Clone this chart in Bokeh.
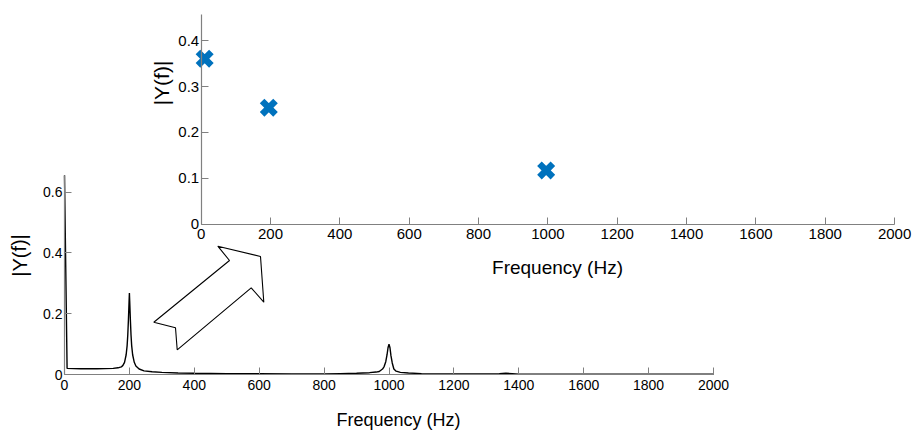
from bokeh.plotting import figure
from bokeh.models import Range1d, LinearAxis, FixedTicker, Label
from bokeh.embed import file_html
from bokeh.resources import INLINE

# ---------------- data ----------------
# lower panel: amplitude spectrum |Y(f)|
spec_freq = [0, 8, 50, 100, 150, 165, 175, 180, 185, 190, 193, 195, 197, 199, 200,
             201, 203, 205, 207, 210, 215, 220, 230, 245, 270, 300, 350, 400, 500,
             600, 700, 800, 850, 900, 940, 960, 970, 980, 985, 990, 994, 997, 1000,
             1003, 1006, 1010, 1015, 1022, 1035, 1060, 1100, 1200, 1300, 1340, 1360,
             1380, 1400, 1500, 1600, 1800, 2000]
spec_mag = [0.655, 0.020, 0.019, 0.019, 0.020, 0.022, 0.025, 0.030, 0.040, 0.065, 0.095,
            0.130, 0.180, 0.240, 0.268, 0.240, 0.180, 0.130, 0.095, 0.065, 0.040, 0.028,
            0.018, 0.012, 0.009, 0.007, 0.005, 0.004, 0.003, 0.003, 0.002, 0.002, 0.003,
            0.004, 0.006, 0.008, 0.010, 0.018, 0.026, 0.042, 0.065, 0.088, 0.100, 0.088,
            0.062, 0.038, 0.018, 0.011, 0.007, 0.005, 0.003, 0.002, 0.002, 0.003, 0.004,
            0.003, 0.001, 0.001, 0.001, 0.001, 0.001]

# inset: picked peaks
peak_freq = [10, 195, 995]
peak_mag = [0.361, 0.254, 0.117]

lower_xticks = [0, 200, 400, 600, 800, 1000, 1200, 1400, 1600, 1800, 2000]
lower_xlabels = ["0", "200", "400", "600", "800", "1000", "1200", "1400", "1600", "1800", "2000"]
lower_yticks = [0, 0.2, 0.4, 0.6]
lower_ylabels = ["0", "0.2", "0.4", "0.6"]
inset_xticks = lower_xticks
inset_xlabels = lower_xlabels
inset_yticks = [0, 0.1, 0.2, 0.3, 0.4]
inset_ylabels = ["0", "0.1", "0.2", "0.3", "0.4"]

x_label = "Frequency (Hz)"
y_label = "|Y(f)|"

# ---------------- layout constants ----------------
W, H = 917, 433             # the frame covers the whole canvas

# lower axes: canvas position of the origin and scale
LX0, LX_PX = 64.0, 0.3245   # canvas x of 0 Hz, px per Hz
LY0, LY_PX = 374.0, 304.0   # canvas y of 0, px per unit
LOWER_XMAX, LOWER_YMAX = 2000, 0.656

# inset axes
IX0, IX_PX = 200.7, 0.3467
IY0, IY_PX = 223.5, 458.0
INSET_XMAX, INSET_YMAX = 2000, 0.457


def xr(x0, k):
    return Range1d(-x0 / k, (W - x0) / k)


def yr(y0, k):
    return Range1d((y0 - H) / k, y0 / k)


FONT = "Liberation Sans"
AXIS_COLOR = "#808080"
TEXT_COLOR = "#000000"

p = figure(width=W, height=H, x_range=xr(LX0, LX_PX), y_range=yr(LY0, LY_PX),
           x_axis_type=None, y_axis_type=None, toolbar_location=None,
           output_backend="svg", min_border=0)
p.extra_x_ranges = {"inx": xr(IX0, IX_PX)}
p.extra_y_ranges = {"iny": yr(IY0, IY_PX)}
p.outline_line_color = None
p.background_fill_color = "white"
p.border_fill_color = "white"


def style_axis(ax, ticks, labels, size, standoff):
    ax.ticker = FixedTicker(ticks=ticks)
    ax.major_label_overrides = {t: l for t, l in zip(ticks, labels)}
    ax.axis_line_color = AXIS_COLOR
    ax.axis_line_width = 1.2
    ax.major_tick_line_color = AXIS_COLOR
    ax.major_tick_in = 7
    ax.major_tick_out = 0
    ax.minor_tick_line_color = None
    ax.major_label_text_font = FONT
    ax.major_label_text_font_size = size
    ax.major_label_text_color = TEXT_COLOR
    ax.major_label_standoff = standoff


lx = LinearAxis(fixed_location=0, bounds=(0, LOWER_XMAX))
style_axis(lx, lower_xticks, lower_xlabels, "14px", 5)
p.add_layout(lx, "below")
ly = LinearAxis(fixed_location=0, bounds=(0, LOWER_YMAX))
style_axis(ly, lower_yticks, lower_ylabels, "14px", 2)
p.add_layout(ly, "left")

ix = LinearAxis(x_range_name="inx", y_range_name="iny", fixed_location=0,
                bounds=(0, INSET_XMAX))
style_axis(ix, inset_xticks, inset_xlabels, "15px", 5)
p.add_layout(ix, "below")
iy = LinearAxis(x_range_name="inx", y_range_name="iny", fixed_location=0,
                bounds=(0, INSET_YMAX))
style_axis(iy, inset_yticks, inset_ylabels, "15px", 2)
p.add_layout(iy, "left")

# spectrum line
p.line(spec_freq, spec_mag, line_color="black", line_width=1.4)

# inset markers
p.scatter(peak_freq, peak_mag, marker="x", size=19, line_width=6.5,
          line_color="#0072BD", x_range_name="inx", y_range_name="iny")

# block arrow (decoration), vertices in canvas px
arrow_px = [(153.3, 321.7), (175.0, 327.3), (176.7, 349.3), (250.7, 287.3),
            (263.3, 301.7), (260.0, 256.0), (217.3, 245.7), (229.0, 260.0)]
ax_data = [(x - LX0) / LX_PX for x, _ in arrow_px]
ay_data = [(LY0 - y) / LY_PX for _, y in arrow_px]
p.patch(ax_data, ay_data, fill_color="white", line_color="black", line_width=1.1)


def add_label(text, cx, cy, size, angle=0.0):
    p.add_layout(Label(x=cx, y=H - cy, x_units="screen", y_units="screen",
                       text=text, text_font=FONT, text_font_size=size,
                       text_color=TEXT_COLOR, text_align="center",
                       text_baseline="middle", angle=angle))


add_label(x_label, 557, 267, "19px")
add_label(y_label, 161, 82.5, "21px", angle=1.5708)
add_label(x_label, 398, 419, "18px")
add_label(y_label, 19, 255, "20px", angle=1.5708)

open("out.html", "w").write(file_html(p, INLINE))
